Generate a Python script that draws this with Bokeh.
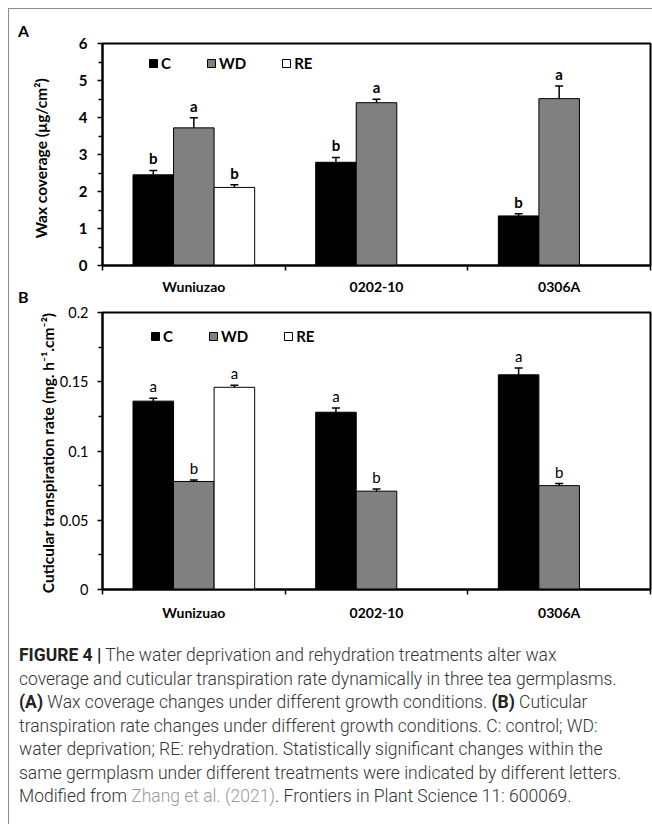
from bokeh.plotting import figure
from bokeh.models import (ColumnDataSource, Whisker, FixedTicker, CustomJSTickFormatter,
                          Legend, LegendItem, Div, Range1d, TeeHead)
from bokeh.layouts import column, row
from bokeh.embed import file_html
from bokeh.resources import INLINE
from bokeh.core.properties import value

# ---------------- data ----------------
categories_a = ["Wuniuzao", "0202-10", "0306A"]
categories_b = ["Wunizuao", "0202-10", "0306A"]
treatments = ["C", "WD", "RE"]
treatment_colors = ["#000000", "#808080", "#ffffff"]

# Panel A: wax coverage (ug/cm2)
wax_C = [2.45, 2.79, 1.34]
wax_C_err = [0.12, 0.13, 0.06]
wax_C_letters = ["b", "b", "b"]
wax_WD = [3.72, 4.40, 4.51]
wax_WD_err = [0.27, 0.09, 0.34]
wax_WD_letters = ["a", "a", "a"]
wax_RE = [2.11]            # only measured for Wuniuzao
wax_RE_err = [0.07]
wax_RE_letters = ["b"]

# Panel B: cuticular transpiration rate (mg h-1 cm-2)
ctr_C = [0.136, 0.128, 0.155]
ctr_C_err = [0.002, 0.003, 0.005]
ctr_C_letters = ["a", "a", "a"]
ctr_WD = [0.078, 0.071, 0.075]
ctr_WD_err = [0.001, 0.0015, 0.0015]
ctr_WD_letters = ["b", "b", "b"]
ctr_RE = [0.146]
ctr_RE_err = [0.0015]
ctr_RE_letters = ["a"]

wax_ticks = [0, 1, 2, 3, 4, 5, 6]
ctr_ticks = [0, 0.05, 0.1, 0.15, 0.2]

FONT = "Lato"
BAR_W = 0.222
LEFT_BORDER = 73
TAG_W = 19


def make_panel(cats, series, y_max, y_ticks, y_label, frame_h, border_top, border_bottom,
               bold_numbers, tick_size, tick_standoff, letter_bold, title_size,
               title_standoff, legend_loc, x_standoff):
    p = figure(output_backend="svg", toolbar_location=None,
               frame_width=548, frame_height=frame_h,
               min_border_left=LEFT_BORDER, min_border_right=3,
               min_border_top=border_top, min_border_bottom=border_bottom,
               x_range=Range1d(0, len(cats)), y_range=Range1d(0, y_max),
               background_fill_color="white", border_fill_color="white")
    p.margin = (0, 0, 0, 0)
    p.grid.visible = False
    p.outline_line_color = "black"
    p.outline_line_width = 2

    items = []
    for k, (name, vals, errs, letters, color) in enumerate(series):
        off = (k - 1) * BAR_W
        xs = [i + 0.5 + off for i in range(len(vals))]
        src = ColumnDataSource(dict(x=xs, top=vals,
                                    upper=[v + e for v, e in zip(vals, errs)],
                                    lower=[v - e for v, e in zip(vals, errs)],
                                    letter=letters))
        r = p.vbar(x="x", top="top", bottom=0, width=BAR_W, source=src,
                   fill_color=color, line_color="black", line_width=1)
        w = Whisker(base="x", upper="upper", lower="lower", source=src,
                    line_color="black", line_width=1.5,
                    upper_head=TeeHead(size=8, line_color="black", line_width=1.5),
                    lower_head=TeeHead(size=8, line_color="black", line_width=1.5))
        p.add_layout(w)
        p.text(x="x", y="upper", text="letter", source=src, y_offset=-3,
               text_align="center", text_baseline="bottom",
               text_font=value(FONT), text_font_size="15px",
               text_font_style="bold" if letter_bold else "normal", text_color="black")
        items.append(LegendItem(label=name, renderers=[r]))

    leg = Legend(items=items, orientation="horizontal", location=legend_loc,
                 glyph_width=10, glyph_height=10, label_height=10, label_width=0,
                 label_standoff=3, spacing=35, padding=0, margin=0,
                 border_line_color=None, background_fill_alpha=0,
                 label_text_font=FONT, label_text_font_size="15px",
                 label_text_font_style="bold", label_text_color="black")
    p.add_layout(leg, "center")

    # x axis: category names centred, tick marks at category boundaries
    xa = p.xaxis[0]
    xa.ticker = FixedTicker(ticks=[i + 0.5 for i in range(len(cats))],
                            minor_ticks=list(range(len(cats) + 1)))
    xa.formatter = CustomJSTickFormatter(args=dict(names=cats),
                                         code="return names[Math.floor(tick)];")
    xa.major_tick_out = 0
    xa.major_tick_in = 0
    xa.minor_tick_out = 5
    xa.minor_tick_in = 0
    xa.minor_tick_line_color = "black"
    xa.minor_tick_line_width = 1.5
    xa.axis_line_width = 2
    xa.axis_line_color = "black"
    xa.major_label_standoff = x_standoff
    xa.major_label_text_font = FONT
    xa.major_label_text_font_size = "14px"
    xa.major_label_text_font_style = "bold"
    xa.major_label_text_color = "black"

    ya = p.yaxis[0]
    ya.ticker = FixedTicker(ticks=y_ticks,
                            minor_ticks=[(a + b) / 2 for a, b in zip(y_ticks[:-1], y_ticks[1:])])
    ya.major_tick_out = 5
    ya.major_tick_in = 0
    ya.minor_tick_out = 4
    ya.minor_tick_in = 0
    ya.major_tick_line_width = 1.5
    ya.minor_tick_line_width = 1.5
    ya.minor_tick_line_color = "black"
    ya.axis_line_width = 2
    ya.axis_line_color = "black"
    ya.major_label_standoff = tick_standoff
    ya.major_label_text_font = FONT
    ya.major_label_text_font_size = tick_size
    ya.major_label_text_font_style = "bold" if bold_numbers else "normal"
    ya.major_label_text_color = "black"
    ya.axis_label = y_label
    ya.axis_label_text_font = FONT
    ya.axis_label_text_font_size = title_size
    ya.axis_label_text_font_style = "bold"
    ya.axis_label_text_color = "black"
    ya.axis_label_standoff = title_standoff
    return p


pa = make_panel(categories_a,
                [("C", wax_C, wax_C_err, wax_C_letters, treatment_colors[0]),
                 ("WD", wax_WD, wax_WD_err, wax_WD_letters, treatment_colors[1]),
                 ("RE", wax_RE, wax_RE_err, wax_RE_letters, treatment_colors[2])],
                6, wax_ticks, "Wax  coverage  (\u00b5g/cm\u00b2)", 222, 34, 35,
                True, "15px", 10, True, "15.5px", 26, (46, 193), 7)

pb = make_panel(categories_b,
                [("C", ctr_C, ctr_C_err, ctr_C_letters, treatment_colors[0]),
                 ("WD", ctr_WD, ctr_WD_err, ctr_WD_letters, treatment_colors[1]),
                 ("RE", ctr_RE, ctr_RE_err, ctr_RE_letters, treatment_colors[2])],
                0.2, ctr_ticks, "Cuticular  transpiration rate (mg. h\u207b\u00b9.cm\u207b\u00b2)",
                277, 12, 41, False, "14.5px", 9, False, "15.5px", 0, (48, 244), 9)

tag_style = ("position:absolute; left:9px; font-family:Lato, sans-serif; font-weight:700; "
             "font-size:16px; line-height:16px; color:#000;")
tags = Div(text=(f'<div style="position:relative; width:{TAG_W}px; height:621px;">'
                 f'<span style="{tag_style} top:14px;">A</span>'
                 f'<span style="{tag_style} top:280px;">B</span>'
                 '</div>'),
           width=TAG_W, height=621, margin=(0, 0, 0, 0))

caption_html = (
    '<div style="font-family: Roboto, \'Liberation Sans\', sans-serif; font-weight: 300; '
    'font-size: 17.5px; line-height: 23.5px; color: #333; white-space: nowrap;">'
    '<b style="font-weight:700;color:#222">FIGURE 4 |</b> The water deprivation and rehydration treatments alter wax<br>'
    'coverage and cuticular transpiration rate dynamically in three tea germplasms.<br>'
    '<b style="font-weight:700;color:#222">(A)</b> Wax coverage changes under different growth conditions. '
    '<b style="font-weight:700;color:#222">(B)</b> Cuticular<br>'
    'transpiration rate changes under different growth conditions. C: control; WD:<br>'
    'water deprivation; RE: rehydration. Statistically significant changes within the<br>'
    'same germplasm under different treatments were indicated by different letters.<br>'
    'Modified from <span style="color:#999">Zhang et al. (2021)</span>. Frontiers in Plant Science 11: 600069.'
    '</div>')
cap = Div(text=caption_html, width=630, height=180, margin=(14, 0, 0, 10))

charts = row(tags, column(pa, pb, spacing=0), spacing=0)
charts.margin = (0, 0, 0, 0)
layout = column(charts, cap, spacing=0,
                styles={"border-top": "1px solid #8c8c8c", "border-left": "1px solid #8c8c8c"})
layout.margin = (8, 0, 0, 8)

open("out.html", "w").write(file_html(layout, INLINE))
